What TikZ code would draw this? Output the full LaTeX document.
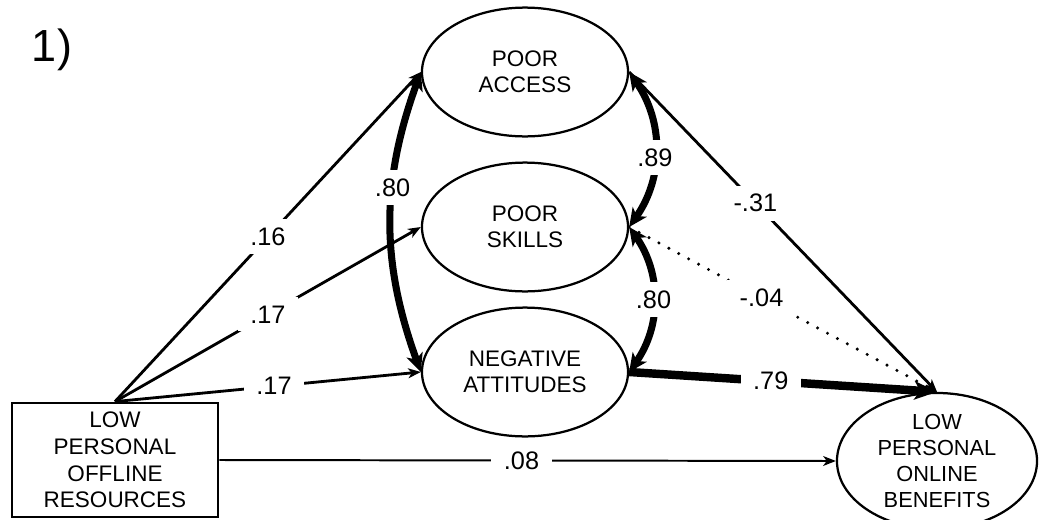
\documentclass[tikz,border=0pt]{standalone}
\usepackage{fontspec}
\setmainfont{Liberation Sans}
\usepackage{tikz}
\usetikzlibrary{arrows.meta, shapes.geometric, positioning}

\begin{document}
\begin{tikzpicture}[x=0.025cm, y=-0.025cm,
    factor/.style={ellipse, draw, line width=1.6pt, minimum width=5.15cm, minimum height=3.22cm, inner sep=0pt, align=center, font=\fontsize{16}{18.5}\selectfont},
    obsbox/.style={rectangle, draw, line width=2pt, minimum width=5.15cm, minimum height=2.85cm, inner sep=0pt, align=center, font=\fontsize{16}{19}\selectfont},
    coef/.style={fill=white, inner xsep=9pt, inner ysep=6pt, font=\fontsize{18}{20}\selectfont},
    effect/.style={-{Stealth[length=9pt, width=7pt, inset=2.5pt]}, line width=2pt},
    cov/.style={{Stealth[length=13pt, width=12pt, inset=3.5pt]}-{Stealth[length=13pt, width=12pt, inset=3.5pt]}, line width=5pt}]
        \useasboundingbox (0,0) rectangle (1040,520);
        \node (panel) at (52,50) {\fontsize{32}{36}\selectfont 1)};

        % mediators
        \node[factor] (access) at (525,72) {POOR\\ACCESS};
        \node[factor] (skills) at (525,227) {POOR\\SKILLS};
        \node[factor] (attitudes) at (525,372) {NEGATIVE\\ATTITUDES};

        % predictor and outcome
        \node[obsbox] (offline) at (115,460) {LOW\\PERSONAL\\OFFLINE\\RESOURCES};
        \node[factor, minimum width=5cm, minimum height=3.4cm, font=\fontsize{15.5}{18.5}\selectfont] (online) at (937,461) {LOW\\PERSONAL\\ONLINE\\BENEFITS};

        % paths from offline resources
        \draw[effect] (offline.north) -- (access.west) node[coef, pos=0.5] {.16};
        \draw[effect] (offline.north) -- (skills.west) node[coef, pos=0.5] {.17};
        \draw[effect] (offline.north) -- (attitudes.west) node[coef, pos=0.52] {.17};
        \draw[effect, line width=1.4pt] (offline.east) -- (online.west) node[coef, pos=0.49] {.08};

        % correlations between mediators
        \draw[cov] (access.west) to[bend right=20] node[coef, pos=0.38] {.80} (attitudes.west);
        \draw[cov] (access.east) to[bend left=35] node[coef, pos=0.55] {.89} (skills.east);
        \draw[cov] (skills.east) to[bend left=35] node[coef, pos=0.5] {.80} (attitudes.east);

        % paths to online benefits
        \draw[effect] (access.east) -- (online.north) node[coef, pos=0.41] {-.31};
        \draw[effect, line width=2.4pt, line cap=round, dash pattern=on 0pt off 8pt] (skills.east) -- (online.north) node[coef, pos=0.43] {-.04};
        \draw[-{Stealth[length=16pt, width=13pt, inset=4pt]}, line width=6pt] (attitudes.east) -- (online.north) node[coef, pos=0.46] {.79};
      \end{tikzpicture}
\end{document}
